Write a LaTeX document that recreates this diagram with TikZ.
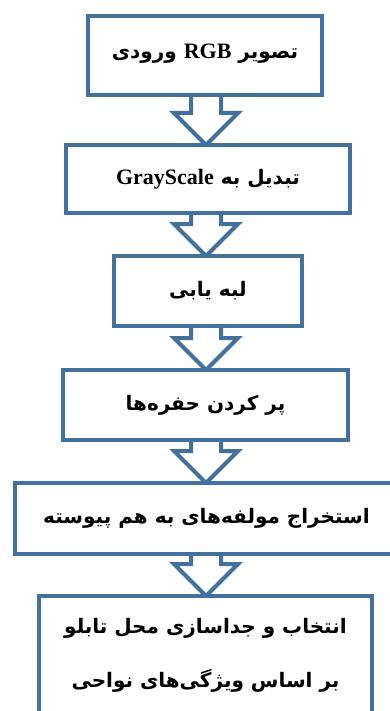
\documentclass[tikz,border=0pt]{standalone}
\usepackage{fontspec}
\usetikzlibrary{calc,backgrounds}
\newfontfamily\arabicfont[Script=Arabic]{DejaVu Sans}
\newfontfamily\latinfont{Liberation Serif}
\TeXXeTstate=1
\definecolor{boxblue}{HTML}{41719C}
\newcommand\fa[1]{{\arabicfont\bfseries\beginR #1\endR}}
\newcommand\en[1]{\beginL{\latinfont\bfseries\fontsize{22}{26}\selectfont #1}\endL{}}
\newcommand\blockarrow[2]{%
  \draw[arrowline]
    ($(#1.south -| axis)+(-15,0)$) --
    ($(#2.north -| axis)+(-15,-32)$) --
    ($(#2.north -| axis)+(-32,-32)$) --
    (#2.north -| axis) --
    ($(#2.north -| axis)+(32,-32)$) --
    ($(#2.north -| axis)+(15,-32)$) --
    ($(#1.south -| axis)+(15,0)$);}
\begin{document}
\begin{tikzpicture}[x=1pt,y=-1pt,
  box/.style={draw=boxblue,line width=4pt,fill=white,outer sep=0pt,inner sep=0pt,
    align=center,font=\arabicfont\bfseries\fontsize{20}{54}\selectfont},
  arrowline/.style={draw=boxblue,line width=4pt,fill=white}]
\useasboundingbox (0,0) rectangle (390,711);
\coordinate (axis) at (206,0);
\node[box,minimum width=234,minimum height=79,text depth=8pt] (b1) at (205,55.5) {\fa{تصویر \en{RGB} ورودی}};
\node[box,minimum width=284,minimum height=68] (b2) at (208,179) {\fa{تبدیل به \en{GrayScale}}};
\node[box,minimum width=188,minimum height=70] (b3) at (208,291) {\fa{لبه یابی}};
\node[box,minimum width=285,minimum height=70] (b4) at (205.5,405) {\fa{پر کردن حفره‌ها}};
\node[box,minimum width=383,minimum height=71] (b5) at (206.5,518.5) {\fa{استخراج مولفه‌های به هم پیوسته}};
\node[box,minimum width=333,minimum height=118] (b6) at (205.5,655) {\fa{انتخاب و جداسازی محل تابلو}\\ \fa{بر اساس ویژگی‌های نواحی}};
\begin{scope}[on background layer]
\blockarrow{b1}{b2}
\blockarrow{b2}{b3}
\blockarrow{b3}{b4}
\blockarrow{b4}{b5}
\blockarrow{b5}{b6}
\end{scope}
\end{tikzpicture}
\end{document}
